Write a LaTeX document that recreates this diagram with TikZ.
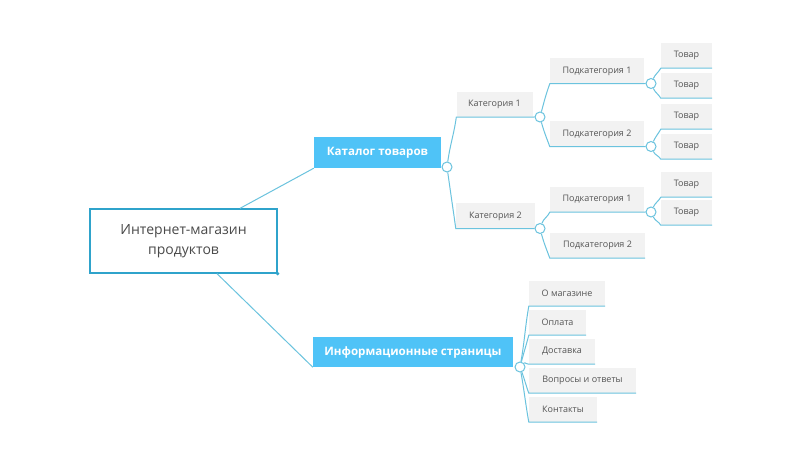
\documentclass[tikz,border=0pt]{standalone}
\usepackage{fontspec}
\setmainfont{Open Sans}
\definecolor{linec}{HTML}{6BC3DE}
\definecolor{rootc}{HTML}{2FA3CB}
\definecolor{bluebox}{HTML}{4FC3F7}
\definecolor{graybox}{HTML}{F2F2F2}
\definecolor{txt}{HTML}{555555}
\definecolor{roottxt}{HTML}{4A4A4A}
\tikzset{
  rootbox/.style={draw=rootc, line width=1.3pt, fill=white, inner sep=0pt, align=center,
    text=roottxt, font=\fontsize{14}{20}\selectfont},
  mainbox/.style={fill=bluebox, inner sep=0pt, text=white, font=\fontsize{11.6}{13}\selectfont\bfseries},
  leafbox/.style={fill=graybox, inner sep=0pt, text=txt, font=\fontsize{9}{11}\selectfont},
  knob/.style={circle, draw=linec, line width=1pt, fill=white, minimum size=10pt, inner sep=0pt},
  conn/.style={draw=linec, line width=1pt},
}
\begin{document}
\begin{tikzpicture}[x=1pt,y=-1pt]
\useasboundingbox[fill=white] (0,0) rectangle (798,457);
% main nodes
\node[rootbox, minimum width=187pt, minimum height=64pt] (root) at (183.5,241) {Интернет-магазин\\продуктов};
\node[mainbox, minimum width=127pt, minimum height=31pt] (cat) at (377.5,152.5) {Каталог товаров};
\node[mainbox, minimum width=200pt, minimum height=30pt] (info) at (413,352) {Информационные страницы};
% categories
\node[leafbox, minimum width=76pt, minimum height=25pt] (k1) at (494.5,104.5) {Категория 1};
\node[leafbox, minimum width=79pt, minimum height=25pt] (k2) at (495.5,216) {Категория 2};
% subcategories
\node[leafbox, minimum width=94pt, minimum height=25pt] (p11) at (597,71) {Подкатегория 1};
\node[leafbox, minimum width=94pt, minimum height=25pt] (p12) at (597,134) {Подкатегория 2};
\node[leafbox, minimum width=94pt, minimum height=25pt] (p21) at (597,199.5) {Подкатегория 1};
\node[leafbox, minimum width=95pt, minimum height=25pt] (p22) at (597.5,245.5) {Подкатегория 2};
% goods
\node[leafbox, minimum width=51pt, minimum height=25pt] (t1) at (686.5,55.5) {Товар};
\node[leafbox, minimum width=51pt, minimum height=25pt] (t2) at (686.5,85.5) {Товар};
\node[leafbox, minimum width=51pt, minimum height=25pt] (t3) at (686.5,116.5) {Товар};
\node[leafbox, minimum width=51pt, minimum height=25pt] (t4) at (686.5,146.5) {Товар};
\node[leafbox, minimum width=51pt, minimum height=25pt] (t5) at (686.5,184.5) {Товар};
\node[leafbox, minimum width=51pt, minimum height=25pt] (t6) at (686.5,212.5) {Товар};
% info pages
\node[leafbox, minimum width=76pt, minimum height=25pt] (i1) at (567,293.5) {О магазине};
\node[leafbox, minimum width=57pt, minimum height=25pt] (i2) at (557.5,322.5) {Оплата};
\node[leafbox, minimum width=66pt, minimum height=25pt] (i3) at (562,351.5) {Доставка};
\node[leafbox, minimum width=107pt, minimum height=25pt] (i4) at (582.5,380.5) {Вопросы и ответы};
\node[leafbox, minimum width=68pt, minimum height=25pt] (i5) at (563,409.5) {Контакты};
% knobs
\node[knob] (cc) at (447,167) {};
\node[knob] (ic) at (520,367) {};
\node[knob] (k1c) at (540,117) {};
\node[knob] (k2c) at (540,228.5) {};
\node[knob] (p11c) at (651,83.5) {};
\node[knob] (p12c) at (651,146.5) {};
\node[knob] (p21c) at (651,212) {};
% root connectors
\draw[conn] ([xshift=56.5pt]root.north) -- (cat.south west);
\draw[conn] ([xshift=33.5pt]root.south) -- (info.south west);
\fill[rootc] (root.south east) circle (1.8pt);
% catalog -> categories
\draw[conn] (cc) to[out=82,in=-98] (k1.south west) -- (k1c.west);
\draw[conn] (cc) to[out=-82,in=98] (k2.south west) -- (k2c.west);
% categories -> subcategories
\draw[conn] (k1c) to[out=75,in=-110] (p11.south west) -- (p11c.west);
\draw[conn] (k1c) to[out=-75,in=110] (p12.south west) -- (p12c.west);
\draw[conn] (k2c) to[out=70,in=-115] (p21.south west) -- (p21c.west);
\draw[conn] (k2c) to[out=-75,in=110] (p22.south west) -- (p22.south east);
% subcategories -> goods
\draw[conn] (p11c) to[out=65,in=-120] (t1.south west) -- (t1.south east);
\draw[conn] (p11c) to[out=-65,in=120] (t2.south west) -- (t2.south east);
\draw[conn] (p12c) to[out=65,in=-120] (t3.south west) -- (t3.south east);
\draw[conn] (p12c) to[out=-65,in=120] (t4.south west) -- (t4.south east);
\draw[conn] (p21c) to[out=65,in=-120] (t5.south west) -- (t5.south east);
\draw[conn] (p21c) to[out=-65,in=120] (t6.south west) -- (t6.south east);
% info -> pages
\draw[conn] (ic) to[out=80,in=-100] (i1.south west) -- (i1.south east);
\draw[conn] (ic) to[out=75,in=-105] (i2.south west) -- (i2.south east);
\draw[conn] (ic) to[out=45,in=-150] (i3.south west) -- (i3.south east);
\draw[conn] (ic) to[out=-70,in=110] (i4.south west) -- (i4.south east);
\draw[conn] (ic) to[out=-80,in=100] (i5.south west) -- (i5.south east);
\end{tikzpicture}
\end{document}
